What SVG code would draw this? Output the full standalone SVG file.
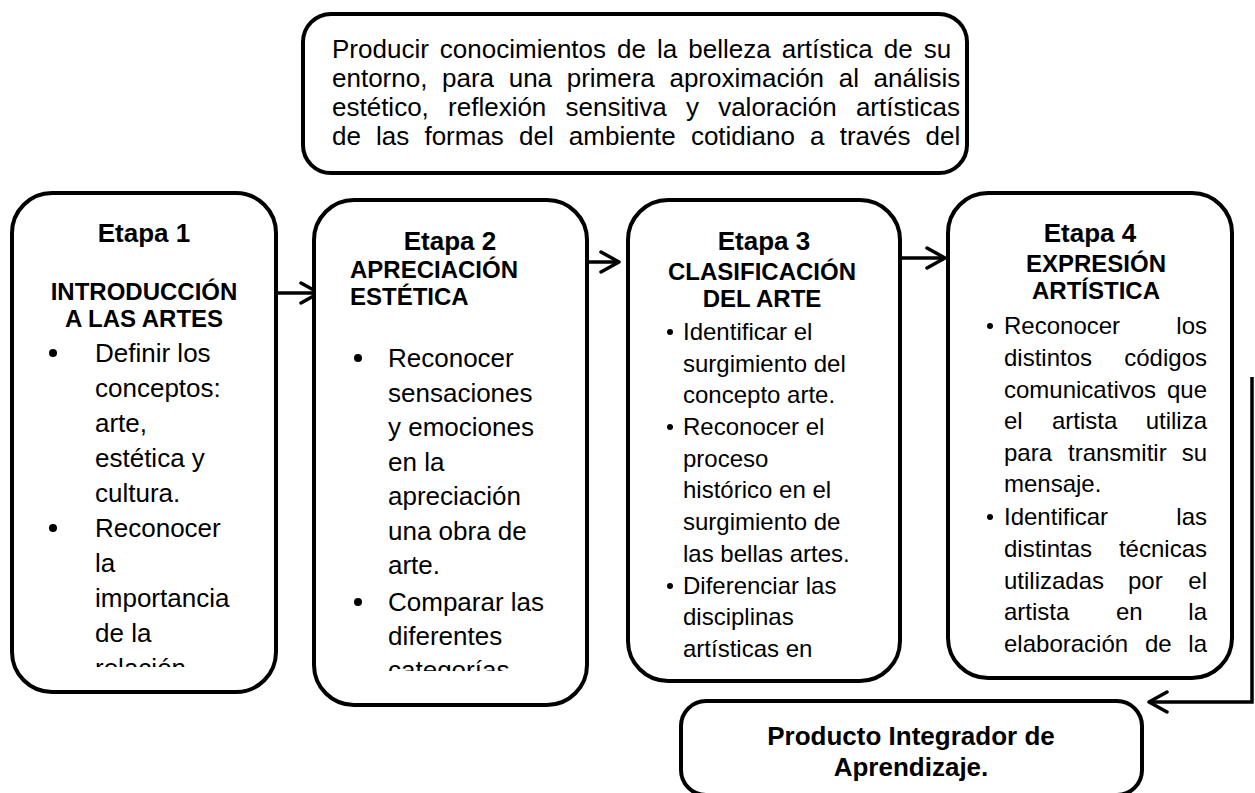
<svg xmlns="http://www.w3.org/2000/svg" width="1255" height="793" viewBox="0 0 1255 793">
<style>
.box{fill:#fff;stroke:#000;stroke-width:4}
.t{font-family:"Liberation Sans",Arial,sans-serif;fill:#000}
.et{font-size:26px;font-weight:bold;text-anchor:middle}
.sub{font-size:24px;font-weight:bold}
.p26{font-size:26px}
.p24{font-size:24px}
.top{font-size:26px}
.con{fill:none;stroke:#000;stroke-width:3.5}
.bul{fill:#000}
</style>
<defs>
<marker id="arr" viewBox="0 0 24 24" refX="21" refY="12" markerWidth="24" markerHeight="24" markerUnits="userSpaceOnUse" orient="auto">
<path d="M3,2 L21,12 L3,22" fill="none" stroke="#000" stroke-width="3.5" stroke-linecap="round" stroke-linejoin="round"/>
</marker>
<clipPath id="c1"><rect x="12" y="330" width="264" height="337"/></clipPath>
<clipPath id="c2"><rect x="314" y="330" width="273" height="341"/></clipPath>
<clipPath id="c3"><rect x="628" y="310" width="272" height="358"/></clipPath>
<clipPath id="c4"><rect x="948" y="305" width="284" height="362"/></clipPath>
</defs>

<g id="connectors">
<line class="con" x1="277" y1="293" x2="319" y2="293" marker-end="url(#arr)"/>
<line class="con" x1="588" y1="262" x2="619" y2="262" marker-end="url(#arr)"/>
<line class="con" x1="902" y1="258" x2="945" y2="258" marker-end="url(#arr)"/>
<path class="con" d="M1252,377 V702 H1149" stroke-width="3" marker-end="url(#arr)"/>
</g>

<g id="objetivo">
<rect class="box" x="303" y="14" width="664" height="159" rx="28"/>
<text class="t top" x="332" y="58" style="word-spacing:3.8px">Producir conocimientos de la belleza artística de su</text>
<text class="t top" x="332" y="87" style="word-spacing:7.4px">entorno, para una primera aproximación al análisis</text>
<text class="t top" x="332" y="116" style="word-spacing:12px">estético, reflexión sensitiva y valoración artísticas</text>
<text class="t top" x="332" y="145" style="word-spacing:7.9px">de las formas del ambiente cotidiano a través del</text>
</g>

<g id="etapa1">
<rect class="box" x="12" y="193" width="264" height="499" rx="40"/>
<text class="t et" x="144" y="242">Etapa 1</text>
<text class="t sub" x="144" y="300" text-anchor="middle">INTRODUCCIÓN</text>
<text class="t sub" x="144" y="327" text-anchor="middle">A LAS ARTES</text>
<g clip-path="url(#c1)">
<circle class="bul" cx="53" cy="353" r="4"/>
<circle class="bul" cx="53" cy="528" r="4"/>
<text class="t p26" x="95" y="362">Definir los</text>
<text class="t p26" x="95" y="397">conceptos:</text>
<text class="t p26" x="95" y="432">arte,</text>
<text class="t p26" x="95" y="467">estética y</text>
<text class="t p26" x="95" y="502">cultura.</text>
<text class="t p26" x="95" y="537">Reconocer</text>
<text class="t p26" x="95" y="572">la</text>
<text class="t p26" x="95" y="607">importancia</text>
<text class="t p26" x="95" y="642">de la</text>
<text class="t p26" x="95" y="677">relación</text>
</g>
</g>

<g id="etapa2">
<rect class="box" x="314" y="200" width="273" height="505" rx="40"/>
<text class="t et" x="450" y="250">Etapa 2</text>
<text class="t sub" x="350" y="278">APRECIACIÓN</text>
<text class="t sub" x="350" y="305">ESTÉTICA</text>
<g clip-path="url(#c2)">
<circle class="bul" cx="358" cy="358" r="4"/>
<circle class="bul" cx="358" cy="602" r="4"/>
<text class="t p26" x="388" y="367">Reconocer</text>
<text class="t p26" x="388" y="402">sensaciones</text>
<text class="t p26" x="388" y="436">y emociones</text>
<text class="t p26" x="388" y="471">en la</text>
<text class="t p26" x="388" y="505">apreciación</text>
<text class="t p26" x="388" y="540">una obra de</text>
<text class="t p26" x="388" y="574">arte.</text>
<text class="t p26" x="388" y="611">Comparar las</text>
<text class="t p26" x="388" y="645">diferentes</text>
<text class="t p26" x="388" y="679">categorías</text>
</g>
</g>

<g id="etapa3">
<rect class="box" x="628" y="200" width="272" height="481" rx="40"/>
<text class="t et" x="764" y="250">Etapa 3</text>
<text class="t sub" x="762" y="280" text-anchor="middle">CLASIFICACIÓN</text>
<text class="t sub" x="762" y="307" text-anchor="middle">DEL ARTE</text>
<g clip-path="url(#c3)">
<circle class="bul" cx="670" cy="332" r="3"/>
<circle class="bul" cx="670" cy="427" r="3"/>
<circle class="bul" cx="670" cy="586" r="3"/>
<text class="t p24" x="683" y="340">Identificar el</text>
<text class="t p24" x="683" y="372">surgimiento del</text>
<text class="t p24" x="683" y="403">concepto arte.</text>
<text class="t p24" x="683" y="435">Reconocer el</text>
<text class="t p24" x="683" y="467">proceso</text>
<text class="t p24" x="683" y="498">histórico en el</text>
<text class="t p24" x="683" y="530">surgimiento de</text>
<text class="t p24" x="683" y="562">las bellas artes.</text>
<text class="t p24" x="683" y="594">Diferenciar las</text>
<text class="t p24" x="683" y="625">disciplinas</text>
<text class="t p24" x="683" y="657">artísticas en</text>
</g>
</g>

<g id="etapa4">
<rect class="box" x="948" y="193" width="284" height="485" rx="40"/>
<text class="t et" x="1090" y="242">Etapa 4</text>
<text class="t sub" x="1096" y="272" text-anchor="middle">EXPRESIÓN</text>
<text class="t sub" x="1096" y="299" text-anchor="middle">ARTÍSTICA</text>
<g clip-path="url(#c4)">
<circle class="bul" cx="990" cy="326" r="3"/>
<circle class="bul" cx="990" cy="517" r="3"/>
<text class="t p24" x="1004" y="334">Reconocer</text><text class="t p24" x="1207" y="334" text-anchor="end">los</text>
<text class="t p24" x="1004" y="366">distintos</text><text class="t p24" x="1207" y="366" text-anchor="end">códigos</text>
<text class="t p24" x="1004" y="398">comunicativos</text><text class="t p24" x="1207" y="398" text-anchor="end">que</text>
<text class="t p24" x="1004" y="429">el</text><text class="t p24" x="1052" y="429">artista</text><text class="t p24" x="1207" y="429" text-anchor="end">utiliza</text>
<text class="t p24" x="1004" y="461">para</text><text class="t p24" x="1068" y="461">transmitir</text><text class="t p24" x="1207" y="461" text-anchor="end">su</text>
<text class="t p24" x="1004" y="492">mensaje.</text>
<text class="t p24" x="1004" y="525">Identificar</text><text class="t p24" x="1207" y="525" text-anchor="end">las</text>
<text class="t p24" x="1004" y="557">distintas</text><text class="t p24" x="1207" y="557" text-anchor="end">técnicas</text>
<text class="t p24" x="1004" y="589">utilizadas</text><text class="t p24" x="1128" y="589">por</text><text class="t p24" x="1207" y="589" text-anchor="end">el</text>
<text class="t p24" x="1004" y="620">artista</text><text class="t p24" x="1116" y="620">en</text><text class="t p24" x="1207" y="620" text-anchor="end">la</text>
<text class="t p24" x="1004" y="652">elaboración</text><text class="t p24" x="1145" y="652">de</text><text class="t p24" x="1207" y="652" text-anchor="end">la</text>
</g>
</g>

<g id="producto">
<rect class="box" x="681" y="701" width="461" height="94" rx="25"/>
<text class="t et" x="911" y="745">Producto Integrador de</text>
<text class="t et" x="911" y="776">Aprendizaje.</text>
</g>
</svg>
